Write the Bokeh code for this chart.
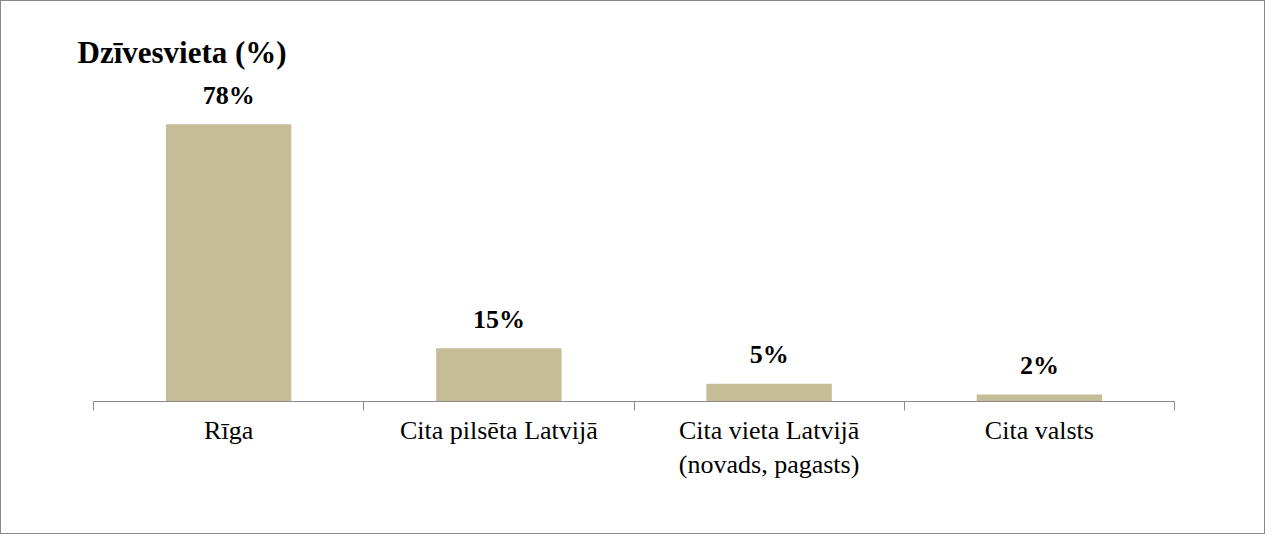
from bokeh.plotting import figure
from bokeh.models import FixedTicker, ColumnDataSource
from bokeh.core.properties import value
from bokeh.embed import file_html
from bokeh.resources import INLINE

# ---- data ----
categories = ["Rīga", "Cita pilsēta Latvijā", "Cita vieta Latvijā\n(novads, pagasts)", "Cita valsts"]
values = [78, 15, 5, 2]
value_labels = [f"{v}%" for v in values]
title_text = "Dzīvesvieta (%)"

BAR_COLOR = "#C4BD97"
AXIS_COLOR = "#8c8c8c"
FONT = "Liberation Serif"

centers = [i + 0.5 for i in range(len(categories))]
boundaries = [i for i in range(len(categories) + 1)]

src = ColumnDataSource(dict(x=centers, top=values, lab=value_labels))

p = figure(width=1265, height=534, x_range=(0, len(categories)), y_range=(0, 90),
           output_backend="svg", toolbar_location=None,
           min_border_left=92, min_border_right=92, min_border_bottom=134, min_border_top=80)

p.title.text = title_text
p.title.text_font = FONT
p.title.text_font_size = "31px"
p.title.text_font_style = "bold"
p.title.align = "left"
p.title.offset = -16
p.title.standoff = 23
p.title.text_color = "black"

p.outline_line_color = None
p.grid.visible = False
p.yaxis.visible = False
p.background_fill_color = "white"
p.border_fill_color = "white"
p.styles = {"border": "1px solid #8a8a8a"}

p.vbar(x="x", top="top", width=0.464, source=src, fill_color=BAR_COLOR, line_color=None)

p.text(x="x", y="top", text="lab", source=src, text_align="center", text_baseline="alphabetic",
       y_offset=-29, text_font=value(FONT), text_font_style="bold", text_font_size="26px",
       text_color="black")

ax = p.xaxis[0]
ax.ticker = FixedTicker(ticks=centers, minor_ticks=boundaries)
ax.major_label_overrides = {c: lab for c, lab in zip(centers, categories)}
ax.major_tick_out = 0
ax.major_tick_in = 0
ax.minor_tick_out = 9
ax.minor_tick_in = 0
ax.minor_tick_line_color = AXIS_COLOR
ax.axis_line_color = AXIS_COLOR
ax.axis_line_width = 1.2
ax.major_label_standoff = 5
ax.major_label_text_font = FONT
ax.major_label_text_font_size = "26px"
ax.major_label_text_color = "black"

open("out.html", "w").write(file_html(p, INLINE))
